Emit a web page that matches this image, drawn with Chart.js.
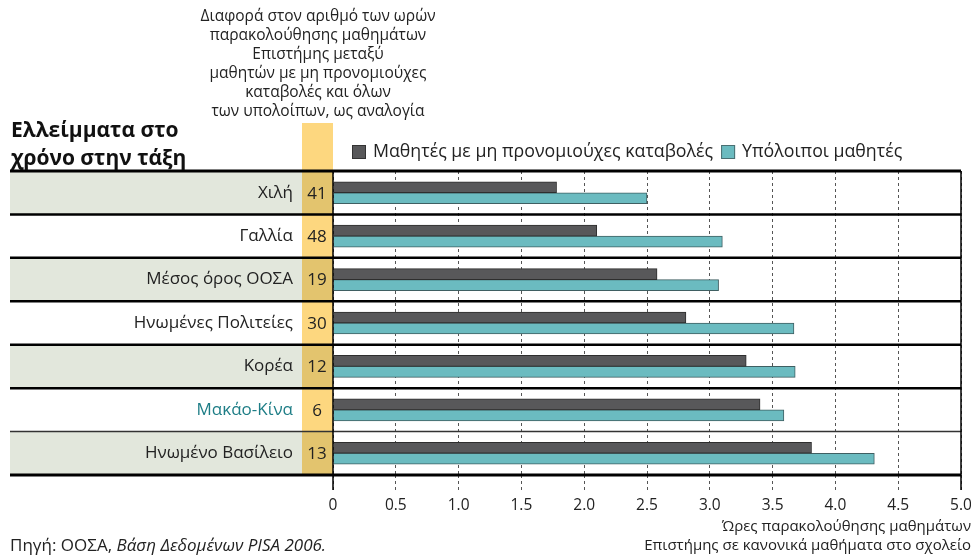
<!DOCTYPE html>
<html>
<head>
<meta charset="utf-8">
<script src="https://cdn.jsdelivr.net/npm/chart.js@4.4.0/dist/chart.umd.min.js"></script>
<style>
  html, body { margin: 0; padding: 0; background: #fff; }
  #wrap { width: 971px; height: 557px; }
</style>
</head>
<body>
<div id="wrap"><canvas id="grafico" width="971" height="557"></canvas></div>
<script>
// dados do grafico
const paises = ["Χιλή", "Γαλλία", "Μέσος όρος ΟΟΣΑ", "Ηνωμένες Πολιτείες", "Κορέα", "Μακάο-Κίνα", "Ηνωμένο Βασίλειο"];
const diferenca = [41, 48, 19, 30, 12, 6, 13];
const desfavorecidos = [1.78, 2.10, 2.58, 2.81, 3.29, 3.40, 3.81];
const outros = [2.50, 3.10, 3.07, 3.67, 3.68, 3.59, 4.31];
const nomesSeries = ["Μαθητές με μη προνομιούχες καταβολές", "Υπόλοιποι μαθητές"];
const ticksX = [0, 0.5, 1.0, 1.5, 2.0, 2.5, 3.0, 3.5, 4.0, 4.5, 5.0];

const fonte = "'Open Sans', 'Noto Sans', sans-serif";
const corEscura = "#58585a";
const corTeal = "#6bbbc0";

// plugin para o fundo, colunas e textos
const decoracao = {
  id: "decoracao",
  beforeDraw(chart) {
    const ctx = chart.ctx;
    const area = chart.chartArea;
    const linha = (area.bottom - area.top) / paises.length;
    ctx.save();
    // coluna amarela acima
    ctx.fillStyle = "#fdd77f";
    ctx.fillRect(302, 123, 31, area.top - 123);
    for (let i = 0; i < paises.length; i++) {
      const topo = area.top + i * linha;
      if (i % 2 == 0) {
        ctx.fillStyle = "#e2e7dc";
        ctx.fillRect(10, topo, 292, linha);
        ctx.fillStyle = "#e3c46e";
      } else {
        ctx.fillStyle = "#fdd77f";
      }
      ctx.fillRect(302, topo, 31, linha);
    }
    ctx.restore();
  },
  afterDraw(chart) {
    const ctx = chart.ctx;
    const area = chart.chartArea;
    const y = chart.scales.y;
    const x = chart.scales.x;
    const linha = (area.bottom - area.top) / paises.length;
    ctx.save();

    // linhas separadoras
    for (let i = 0; i <= paises.length; i++) {
      const yy = area.top + i * linha;
      ctx.beginPath();
      ctx.strokeStyle = i == 6 ? "#333" : "#000";
      ctx.lineWidth = (i == 0 || i == paises.length) ? 3 : (i == 6 ? 1.5 : 2.5);
      ctx.moveTo(10, yy);
      ctx.lineTo(area.right, yy);
      ctx.stroke();
    }

    // eixo 0 e 5.0
    ctx.lineWidth = 1.5;
    ctx.strokeStyle = "#000";
    [0, 5].forEach(function (v) {
      const xx = x.getPixelForValue(v);
      ctx.beginPath();
      ctx.moveTo(xx, area.top);
      ctx.lineTo(xx, area.bottom + 15);
      ctx.stroke();
    });

    // numeros da coluna amarela
    ctx.fillStyle = "#222";
    ctx.font = "17px " + fonte;
    ctx.textAlign = "center";
    ctx.textBaseline = "middle";
    for (let i = 0; i < diferenca.length; i++) {
      ctx.fillText(String(diferenca[i]), 317, y.getPixelForValue(i) + 1);
    }

    // texto explicativo acima
    const explic = ["Διαφορά στον αριθμό των ωρών", "παρακολούθησης μαθημάτων", "Επιστήμης μεταξύ",
      "μαθητών με μη προνομιούχες", "καταβολές και όλων", "των υπολοίπων, ως αναλογία"];
    ctx.font = "15.5px " + fonte;
    ctx.fillStyle = "#222";
    for (let i = 0; i < explic.length; i++) {
      ctx.fillText(explic[i], 318, 17 + i * 19);
    }

    // titulo
    ctx.textAlign = "left";
    ctx.font = "bold 21px " + fonte;
    ctx.fillStyle = "#111";
    ctx.fillText("Ελλείμματα στο", 11, 131);
    ctx.fillText("χρόνο στην τάξη", 11, 159);

    // legenda
    ctx.font = "17.8px " + fonte;
    const cores = [corEscura, corTeal];
    const bordas = ["#333", "#4a6f72"];
    let lx = 352;
    for (let i = 0; i < nomesSeries.length; i++) {
      ctx.fillStyle = cores[i];
      ctx.fillRect(lx, 145, 14, 14);
      ctx.strokeStyle = bordas[i];
      ctx.lineWidth = 1;
      ctx.strokeRect(lx + 0.5, 145.5, 13, 13);
      ctx.fillStyle = "#222";
      ctx.fillText(nomesSeries[i], lx + 21, 152);
      lx += 21 + ctx.measureText(nomesSeries[i]).width + 8;
    }

    // titulo do eixo x
    ctx.font = "15px " + fonte;
    ctx.textAlign = "right";
    ctx.fillText("Ώρες παρακολούθησης μαθημάτων", 971, 527);
    ctx.fillText("Επιστήμης σε κανονικά μαθήματα στο σχολείο", 971, 546);

    // fonte
    ctx.textAlign = "left";
    ctx.font = "17px " + fonte;
    const p1 = "Πηγή: ΟΟΣΑ, ";
    ctx.fillText(p1, 10, 546);
    const w1 = ctx.measureText(p1).width;
    ctx.font = "italic 17px " + fonte;
    ctx.fillText("Βάση Δεδομένων PISA 2006.", 10 + w1, 546);

    ctx.restore();
  }
};

const grafico = new Chart(document.getElementById("grafico"), {
  type: "bar",
  data: {
    labels: paises,
    datasets: [
      {
        label: nomesSeries[0],
        data: desfavorecidos,
        backgroundColor: corEscura,
        borderColor: "#2e2e2e",
        borderWidth: 1,
        barThickness: 11,
      },
      {
        label: nomesSeries[1],
        data: outros,
        backgroundColor: corTeal,
        borderColor: "#3f5f62",
        borderWidth: 1,
        barThickness: 11,
      },
    ],
  },
  options: {
    indexAxis: "y",
    responsive: false,
    animation: false,
    layout: { padding: { top: 171, right: 10, bottom: 0, left: 0 } },
    plugins: {
      legend: { display: false },
      tooltip: { enabled: false },
    },
    scales: {
      x: {
        min: 0,
        max: 5,
        afterBuildTicks: function (scale) {
          scale.ticks = ticksX.map(function (v) { return { value: v }; });
        },
        afterFit: function (scale) {
          scale.height = 82;
          scale.paddingLeft = 0;
          scale.paddingRight = 0;
        },
        grid: {
          color: "#555",
          lineWidth: 1,
          tickLength: 15,
          tickColor: "#555",
          tickBorderDash: [3, 3],
        },
        border: { display: false, dash: [3, 3] },
        ticks: {
          padding: 6,
          color: "#222",
          font: { family: fonte, size: 15.5 },
          callback: function (v) { return v == 0 ? "0" : Number(v).toFixed(1); },
        },
      },
      y: {
        afterFit: function (scale) {
          scale.width = 333;
        },
        grid: { display: false, drawTicks: false },
        border: { display: false },
        ticks: {
          padding: 40,
          font: { family: fonte, size: 17 },
          color: function (c) { return c.index == 5 ? "#1d7d86" : "#222"; },
        },
      },
    },
  },
  plugins: [decoracao],
});
</script>
</body>
</html>
